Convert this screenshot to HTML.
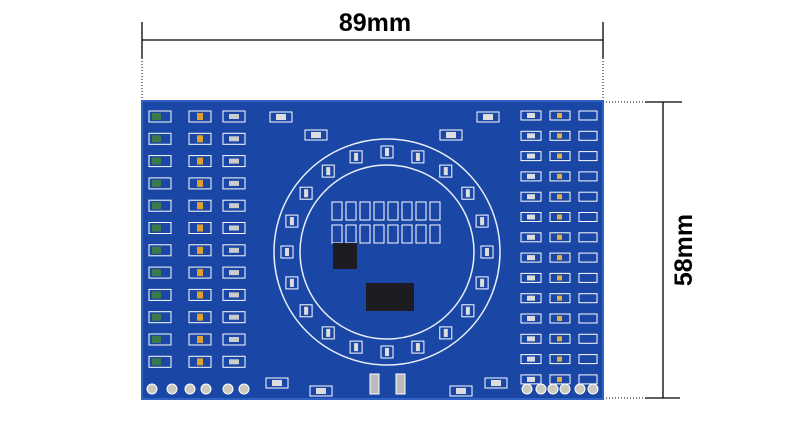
<!DOCTYPE html>
<html><head><meta charset="utf-8"><style>
html,body{margin:0;padding:0;background:#fff;width:800px;height:424px;overflow:hidden}
</style></head><body>
<svg id="s" width="800" height="424" viewBox="0 0 800 424" xmlns="http://www.w3.org/2000/svg">
<rect width="800" height="424" fill="#fff"/>
<!-- top dimension -->
<line x1="142" y1="40" x2="603" y2="40" stroke="#000" stroke-width="1.3"/>
<line x1="142" y1="22" x2="142" y2="58" stroke="#000" stroke-width="1.3"/>
<line x1="603" y1="22" x2="603" y2="58" stroke="#000" stroke-width="1.3"/>
<line x1="142" y1="58" x2="142" y2="101" stroke="#000" stroke-width="1" stroke-dasharray="1,2"/>
<line x1="603" y1="58" x2="603" y2="101" stroke="#000" stroke-width="1" stroke-dasharray="1,2"/>
<text x="375" y="31" font-family="Liberation Sans, sans-serif" font-weight="bold" font-size="25" text-anchor="middle">89mm</text>
<!-- right dimension -->
<line x1="603" y1="102" x2="645" y2="102" stroke="#000" stroke-width="1" stroke-dasharray="1,2"/>
<line x1="603" y1="398" x2="645" y2="398" stroke="#000" stroke-width="1" stroke-dasharray="1,2"/>
<line x1="645" y1="102" x2="682" y2="102" stroke="#000" stroke-width="1.3"/>
<line x1="645" y1="398" x2="680" y2="398" stroke="#000" stroke-width="1.3"/>
<line x1="663" y1="102" x2="663" y2="398" stroke="#000" stroke-width="1.3"/>
<text transform="translate(692,250) rotate(-90)" font-family="Liberation Sans, sans-serif" font-weight="bold" font-size="25" text-anchor="middle">58mm</text>
<!-- board -->
<rect x="142" y="101" width="461" height="298" fill="#1a46a6"/>
<rect x="142" y="101" width="461" height="298" fill="none" stroke="#2f62c4" stroke-width="2"/>
<g id="g"></g>
<circle cx="387" cy="252" r="113" fill="none" stroke="#e8eef8" stroke-width="1.5"/>
<circle cx="387" cy="252" r="87" fill="none" stroke="#e8eef8" stroke-width="1.5"/>
<rect x="366" y="283" width="48" height="28" fill="#1c1c22"/>
<rect x="333" y="243" width="24" height="26" fill="#1c1c22"/>
<rect x="370" y="374" width="9" height="20" fill="#bbb" stroke="#fff"/>
<rect x="396" y="374" width="9" height="20" fill="#bbb" stroke="#fff"/>
</svg>
<script>
var g=document.getElementById('g'),ns='http://www.w3.org/2000/svg';
function r(x,y,w,h,f,s){var e=document.createElementNS(ns,'rect');e.setAttribute('x',x);e.setAttribute('y',y);e.setAttribute('width',w);e.setAttribute('height',h);e.setAttribute('fill',f||'none');if(s)e.setAttribute('stroke',s);g.appendChild(e);}
function c(x,y,rr){var e=document.createElementNS(ns,'circle');e.setAttribute('cx',x);e.setAttribute('cy',y);e.setAttribute('r',rr);e.setAttribute('fill','#c9c9c0');e.setAttribute('stroke','#fff');g.appendChild(e);}
for(var i=0;i<12;i++){var y=111+i*22.3;
 r(149,y,22,11,'#1a46a6','#fff');r(152,y+2,9,7,'#3d7a4a');
 r(189,y,22,11,'#1a46a6','#fff');r(197,y+2,6,7,'#e0a030');
 r(223,y,22,11,'#1a46a6','#fff');r(229,y+3,10,5,'#ccc');}
for(var i=0;i<14;i++){var y=111+i*20.3;
 r(521,y,20,9,'#1a46a6','#fff');r(527,y+2,8,5,'#ddd');
 r(550,y,20,9,'#1a46a6','#fff');r(557,y+2,5,5,'#e0b040');
 r(579,y,18,9,'#1a46a6','#fff');}
[152,172,190,206,228,244,527,541,553,565,580,593].forEach(function(x){c(x,389,5);});
for(var k=0;k<8;k++){r(332+k*14,202,10,18,'#1a46a6','#fff');r(332+k*14,225,10,18,'#1a46a6','#fff');}
for(var a=0;a<20;a++){var t=a/20*2*Math.PI,x=387+100*Math.cos(t),y=252+100*Math.sin(t);r(x-6,y-6,12,12,'#1a46a6','#fff');r(x-2,y-4,4,8,'#ddd');}
[[270,92],[305,110],[440,110],[477,92],[266,358],[310,366],[450,366],[485,358]].forEach(function(p){r(p[0],p[1]+20,22,10,'#1a46a6','#fff');r(p[0]+6,p[1]+22,10,6,'#ddd');});
</script>
</body></html>
